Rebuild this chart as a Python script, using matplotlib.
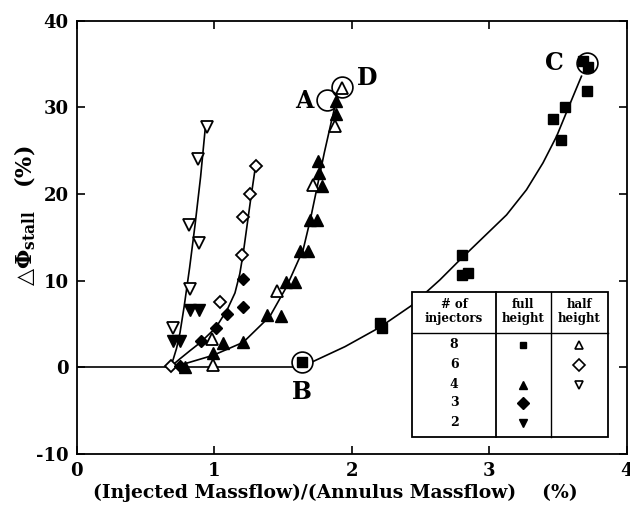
import matplotlib
matplotlib.use('Agg')
import matplotlib.pyplot as plt
from matplotlib.patches import Rectangle

plt.rcParams['font.family'] = ['DejaVu Serif']
plt.rcParams['font.weight'] = 'bold'
plt.rcParams['mathtext.fontset'] = 'dejavuserif'
plt.rcParams['axes.unicode_minus'] = False

full8_x = [1.641, 2.204, 2.216, 2.80, 2.80, 2.846, 3.46, 3.518, 3.55, 3.707, 3.68, 3.72]
full8_y = [0.6, 5.1, 4.5, 13.0, 10.7, 10.9, 28.7, 26.2, 30.1, 31.9, 35.3, 34.7]

half8_x = [0.99, 0.98, 1.452, 1.714, 1.876, 1.925]
half8_y = [0.3, 3.3, 8.8, 21.0, 27.9, 32.2]

half6_x = [0.688, 1.04, 1.198, 1.205, 1.258, 1.302]
half6_y = [0.2, 7.5, 13.0, 17.4, 20.0, 23.3]

full4_x = [0.79, 0.99, 1.064, 1.21, 1.38, 1.488, 1.52, 1.585, 1.622, 1.682,
           1.695, 1.744, 1.78, 1.755, 1.763, 1.884, 1.888]
full4_y = [0.1, 1.7, 2.8, 2.9, 6.1, 5.9, 9.9, 9.9, 13.4, 13.4,
           17.0, 17.0, 20.9, 23.8, 22.4, 29.3, 30.7]

half4_x = [0.70, 0.824, 0.887, 0.812, 0.882, 0.948]
half4_y = [4.6, 9.0, 14.4, 16.4, 24.0, 27.7]

full3_x = [0.75, 0.90, 1.013, 1.09, 1.205, 1.21]
full3_y = [0.2, 3.1, 4.5, 6.2, 7.0, 10.2]

full2_x = [0.70, 0.75, 0.822, 0.887]
full2_y = [3.0, 3.0, 6.6, 6.6]

# fitted curves
base_x = [0.0, 1.60]
base_y = [0.0, 0.0]

curve8_x = [1.64, 1.72, 1.95, 2.2, 2.43, 2.64, 2.785, 2.955, 3.125, 3.27, 3.39, 3.49, 3.56, 3.62, 3.67]
curve8_y = [0.0, 0.7, 2.4, 4.6, 7.1, 10.1, 12.4, 15.0, 17.6, 20.5, 23.6, 26.7, 29.4, 31.7, 33.6]

curve4_x = [0.676, 0.8, 0.991, 1.21, 1.404, 1.525, 1.646, 1.70, 1.75, 1.80, 1.85, 1.89]
curve4_y = [0.0, 0.5, 1.4, 2.9, 5.9, 9.3, 13.6, 17.2, 21.0, 24.8, 28.3, 31.0]

curve6_x = [0.676, 0.75, 0.82, 0.9, 1.011, 1.093, 1.15, 1.185, 1.212, 1.238, 1.265, 1.30]
curve6_y = [0.0, 1.0, 1.9, 2.9, 4.6, 6.65, 8.6, 10.8, 13.4, 16.4, 19.5, 23.3]

curve2_x = [0.676, 0.70, 0.725, 0.75, 0.78, 0.82, 0.86, 0.90, 0.935]
curve2_y = [0.0, 0.9, 2.2, 4.0, 7.0, 11.5, 16.5, 22.0, 27.8]

# circled points and their letters
circ_labels = ['A', 'B', 'C', 'D']
circ_x = [1.816, 1.641, 3.707, 1.925]
circ_y = [30.9, 0.6, 35.1, 32.4]
letter_x = [1.651, 1.634, 3.476, 2.11]
letter_y = [30.7, -2.8, 35.1, 33.4]

# legend table rows
rows = ['8', '6', '4', '3', '2']
full_marks = ['s', None, '^', 'D', 'v']
half_marks = ['^', 'D', 'v', None, None]

fig = plt.figure(figsize=(6.3, 5.19), dpi=100)
ax = fig.add_axes([0.122, 0.125, 0.873, 0.835])

lw = 1.2
for cx, cy in [(base_x, base_y), (curve8_x, curve8_y), (curve4_x, curve4_y),
               (curve6_x, curve6_y), (curve2_x, curve2_y)]:
    ax.plot(cx, cy, color='black', lw=lw, zorder=2)

ax.plot(full8_x, full8_y, 's', color='black', ms=6.5, zorder=5)
ax.plot(half8_x, half8_y, '^', mfc='white', mec='black', mew=1.3, ms=8, zorder=5)
ax.plot(half6_x, half6_y, 'D', mfc='white', mec='black', mew=1.3, ms=6.5, zorder=5)
ax.plot(full4_x, full4_y, '^', color='black', ms=8, zorder=5)
ax.plot(half4_x, half4_y, 'v', mfc='white', mec='black', mew=1.3, ms=8, zorder=5)
ax.plot(full3_x, full3_y, 'D', color='black', ms=6.5, zorder=5)
ax.plot(full2_x, full2_y, 'v', color='black', ms=8, zorder=5)

# circles: data units are not square, so use markers
for lab, x, y in zip(circ_labels, circ_x, circ_y):
    fc = 'white' if lab in ('B', 'C') else 'none'
    ax.plot(x, y, 'o', ms=15, mfc=fc, mec='black', mew=1.2, zorder=4)
for lab, x, y in zip(circ_labels, letter_x, letter_y):
    ax.text(x, y, lab, fontsize=17, fontweight='bold', ha='center', va='center', zorder=6)

# legend table in data coordinates
tl, tr, c1, c2 = 2.441, 3.864, 3.047, 3.445
tt, th, tb = 8.76, 4.03, -7.98
ax.add_patch(Rectangle((tl, tb), tr - tl, tt - tb, facecolor='white',
                       edgecolor='black', lw=1.3, zorder=7))
ax.plot([c1, c1], [tb, tt], color='black', lw=1.3, zorder=8)
ax.plot([c2, c2], [tb, tt], color='black', lw=1.0, zorder=8)
ax.plot([tl, tr], [th, th], color='black', lw=1.0, zorder=8)
col_c = [(tl + c1) / 2, (c1 + c2) / 2, (c2 + tr) / 2]
ax.text(col_c[0], 6.4, '# of\ninjectors', fontsize=8.5, ha='center', va='center',
        linespacing=1.1, zorder=9)
ax.text(col_c[1], 6.4, 'full\nheight', fontsize=8.5, ha='center', va='center',
        linespacing=1.1, zorder=9)
ax.text(col_c[2], 6.4, 'half\nheight', fontsize=8.5, ha='center', va='center',
        linespacing=1.1, zorder=9)
row_y = [2.6, 0.3, -2.0, -4.1, -6.4]
for r, fm, hm, yy in zip(rows, full_marks, half_marks, row_y):
    ax.text(col_c[0], yy, r, fontsize=9, ha='center', va='center', zorder=9)
    if fm:
        ax.plot(col_c[1], yy, fm, color='black', ms=6 if fm != 's' else 5, zorder=9)
    if hm:
        ax.plot(col_c[2], yy, hm, mfc='white', mec='black', mew=1.2,
                ms=6, zorder=9)

ax.set_xlim(0, 4)
ax.set_ylim(-10, 40)
ax.set_xticks([0, 1, 2, 3, 4])
ax.set_yticks([-10, 0, 10, 20, 30, 40])
ax.tick_params(direction='in', length=6, width=1.2, top=True, right=True,
               labelsize=13, pad=6)
for lab in ax.get_xticklabels() + ax.get_yticklabels():
    lab.set_fontweight('bold')
for s in ax.spines.values():
    s.set_linewidth(1.3)

ax.set_xlabel('(Injected Massflow)/(Annulus Massflow)    (%)', fontsize=13.5,
              fontweight='bold')
ax.xaxis.set_label_coords(0.47, -0.068)
ax.set_ylabel(r'$\bigtriangleup\mathbf{\Phi}_{\mathbf{stall}}$   (%)', fontsize=16,
              fontweight='bold')
ax.yaxis.set_label_coords(-0.07, 0.55)

fig.savefig('out.png', dpi=100)
